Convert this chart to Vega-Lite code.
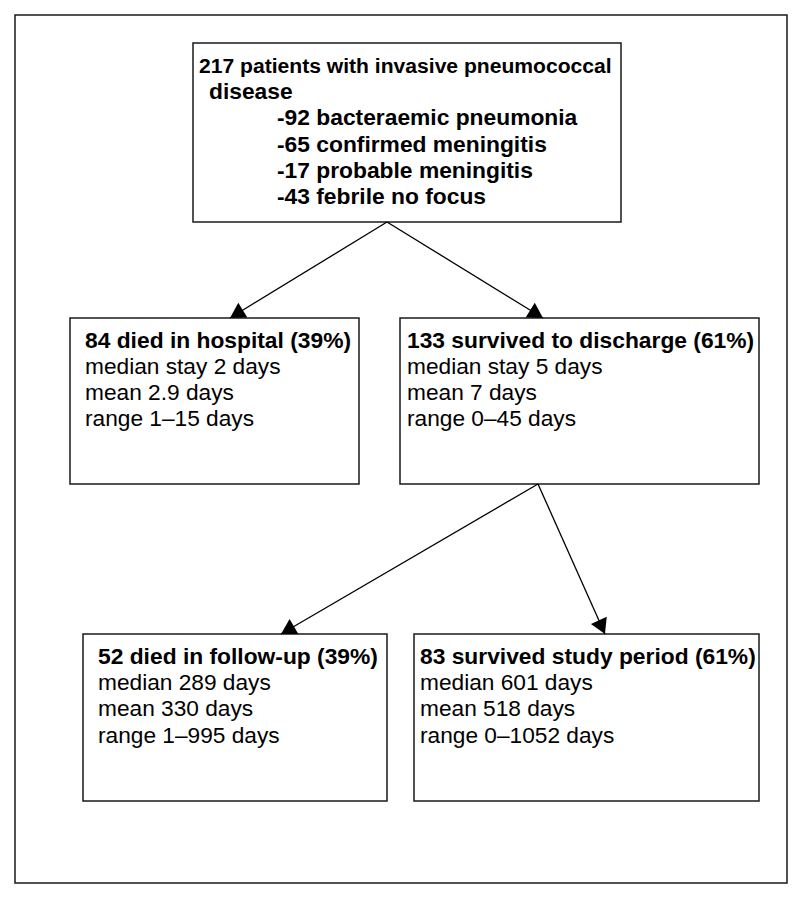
{
  "$schema": "https://vega.github.io/schema/vega-lite/v6.json",
  "width": 800,
  "height": 898,
  "autosize": {"type": "fit", "contains": "padding"},
  "padding": 0,
  "background": "white",
  "config": {"view": {"stroke": null}},
  "datasets": {
    "boxes": [
      {"name": "frame", "x1": 15, "x2": 787, "y1": 15, "y2": 883},
      {"name": "all", "x1": 193, "x2": 621, "y1": 43, "y2": 222},
      {"name": "died_hosp", "x1": 70, "x2": 359, "y1": 318, "y2": 484},
      {"name": "survived_dis", "x1": 400, "x2": 759, "y1": 318, "y2": 484},
      {"name": "died_fu", "x1": 83, "x2": 387, "y1": 634, "y2": 801},
      {"name": "survived_study", "x1": 414, "x2": 759, "y1": 634, "y2": 801}
    ],
    "arrows": [
      {"x1": 387, "y1": 222, "x2": 230, "y2": 318},
      {"x1": 387, "y1": 222, "x2": 543, "y2": 318},
      {"x1": 538, "y1": 484, "x2": 281, "y2": 634},
      {"x1": 538, "y1": 484, "x2": 605, "y2": 634}
    ],
    "heads": [
      {"x": 236.4, "y": 314.1, "ang": 238.6},
      {"x": 536.6, "y": 314.1, "ang": 121.6},
      {"x": 287.5, "y": 630.2, "ang": 239.7},
      {"x": 601.9, "y": 627.2, "ang": 155.9}
    ],
    "texts": [
      {"kind": "head", "x": 199, "y": 73, "label": "217 patients with invasive pneumococcal"},
      {"kind": "bold", "x": 209, "y": 99, "label": "disease"},
      {"kind": "bold", "x": 277, "y": 125, "label": "-92 bacteraemic pneumonia"},
      {"kind": "bold", "x": 277, "y": 152, "label": "-65 confirmed meningitis"},
      {"kind": "bold", "x": 277, "y": 178, "label": "-17 probable meningitis"},
      {"kind": "bold", "x": 277, "y": 204, "label": "-43 febrile no focus"},
      {"kind": "bold", "x": 85, "y": 348, "label": "84 died in hospital (39%)"},
      {"kind": "plain", "x": 85, "y": 374, "label": "median stay 2 days"},
      {"kind": "plain", "x": 85, "y": 400, "label": "mean 2.9 days"},
      {"kind": "plain", "x": 85, "y": 426, "label": "range 1\u201315 days"},
      {"kind": "bold", "x": 407, "y": 348, "label": "133 survived to discharge (61%)"},
      {"kind": "plain", "x": 407, "y": 374, "label": "median stay 5 days"},
      {"kind": "plain", "x": 407, "y": 400, "label": "mean 7 days"},
      {"kind": "plain", "x": 407, "y": 426, "label": "range 0\u201345 days"},
      {"kind": "bold", "x": 98, "y": 664, "label": "52 died in follow-up (39%)"},
      {"kind": "plain", "x": 98, "y": 690, "label": "median 289 days"},
      {"kind": "plain", "x": 98, "y": 716, "label": "mean 330 days"},
      {"kind": "plain", "x": 98, "y": 743, "label": "range 1\u2013995 days"},
      {"kind": "bold", "x": 420, "y": 664, "label": "83 survived study period (61%)"},
      {"kind": "plain", "x": 420, "y": 690, "label": "median 601 days"},
      {"kind": "plain", "x": 420, "y": 716, "label": "mean 518 days"},
      {"kind": "plain", "x": 420, "y": 743, "label": "range 0\u20131052 days"}
    ]
  },
  "layer": [
    {
      "data": {"name": "boxes"},
      "mark": {"type": "rect", "fill": "transparent", "stroke": "#1a1a1a", "strokeWidth": 1.5},
      "encoding": {
        "x": {"field": "x1", "type": "quantitative", "scale": {"domain": [0, 800], "nice": false, "zero": false}, "axis": null},
        "x2": {"field": "x2"},
        "y": {"field": "y1", "type": "quantitative", "scale": {"domain": [0, 898], "nice": false, "zero": false, "reverse": true}, "axis": null},
        "y2": {"field": "y2"}
      }
    },
    {
      "data": {"name": "arrows"},
      "mark": {"type": "rule", "color": "black", "strokeWidth": 1.3},
      "encoding": {
        "x": {"field": "x1", "type": "quantitative", "axis": null},
        "x2": {"field": "x2"},
        "y": {"field": "y1", "type": "quantitative", "axis": null},
        "y2": {"field": "y2"}
      }
    },
    {
      "data": {"name": "heads"},
      "mark": {"type": "point", "shape": "triangle-up", "filled": true, "color": "black", "opacity": 1, "size": 300, "strokeWidth": 0},
      "encoding": {
        "x": {"field": "x", "type": "quantitative", "axis": null},
        "y": {"field": "y", "type": "quantitative", "axis": null},
        "angle": {"field": "ang", "type": "quantitative", "scale": null}
      }
    },
    {
      "data": {"name": "texts"},
      "transform": [{"filter": "datum.kind === 'head'"}],
      "mark": {"type": "text", "align": "left", "baseline": "alphabetic", "font": "Liberation Sans", "fontWeight": "bold", "fontSize": 21.1, "color": "black"},
      "encoding": {
        "x": {"field": "x", "type": "quantitative", "axis": null},
        "y": {"field": "y", "type": "quantitative", "axis": null},
        "text": {"field": "label"}
      }
    },
    {
      "data": {"name": "texts"},
      "transform": [{"filter": "datum.kind === 'bold'"}],
      "mark": {"type": "text", "align": "left", "baseline": "alphabetic", "font": "Liberation Sans", "fontWeight": "bold", "fontSize": 22.8, "color": "black"},
      "encoding": {
        "x": {"field": "x", "type": "quantitative", "axis": null},
        "y": {"field": "y", "type": "quantitative", "axis": null},
        "text": {"field": "label"}
      }
    },
    {
      "data": {"name": "texts"},
      "transform": [{"filter": "datum.kind === 'plain'"}],
      "mark": {"type": "text", "align": "left", "baseline": "alphabetic", "font": "Liberation Sans", "fontWeight": "normal", "fontSize": 22.7, "color": "black"},
      "encoding": {
        "x": {"field": "x", "type": "quantitative", "axis": null},
        "y": {"field": "y", "type": "quantitative", "axis": null},
        "text": {"field": "label"}
      }
    }
  ]
}
